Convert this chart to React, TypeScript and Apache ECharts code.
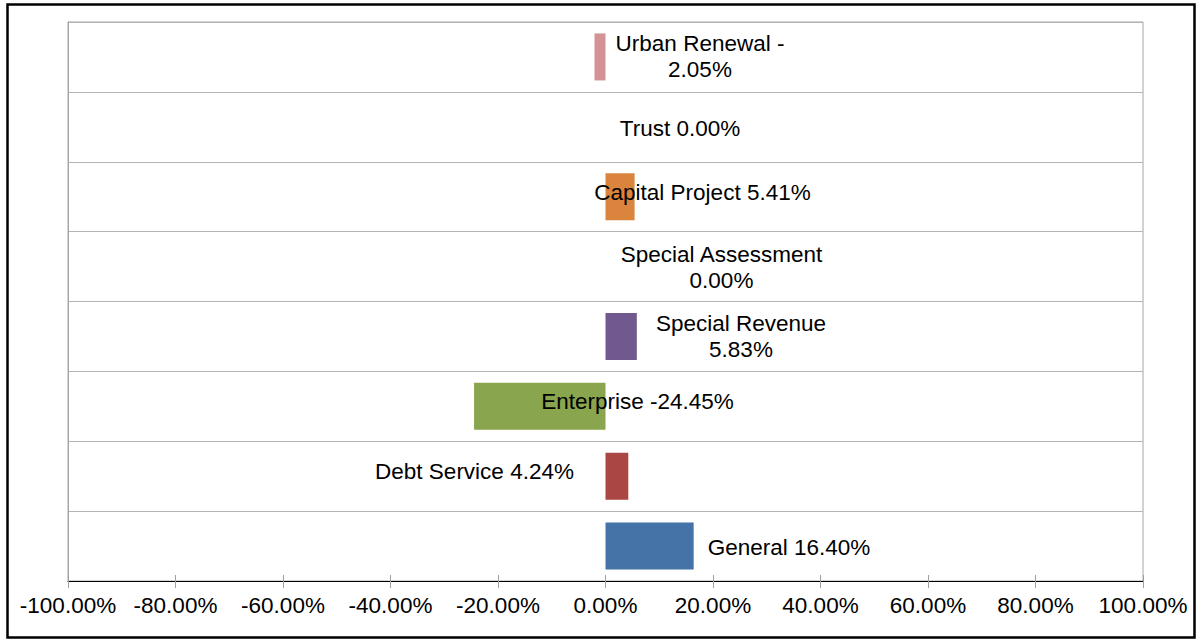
import React, { useEffect, useRef } from "react";
import * as echarts from "echarts";

// Categories listed bottom-to-top (as on the category axis)
const categories = [
  "General",
  "Debt Service",
  "Enterprise",
  "Special Revenue",
  "Special Assessment",
  "Capital Project",
  "Trust",
  "Urban Renewal",
];
const values = [16.4, 4.24, -24.45, 5.83, 0.0, 5.41, 0.0, -2.05];
const colors = ["#4572A7", "#AA4643", "#89A54E", "#71588F", "#4198AF", "#DB843D", "#93A9CF", "#D39394"];
const wrapLabel = [false, false, false, true, true, false, false, true];
const xTicks = { min: -100, max: 100, interval: 20 };

// label anchor (centre) positions in pixels — styling of the data labels
const labelX = [789, 474.5, 637.5, 741, 721.5, 702.5, 680, 700];
const labelY = [547, 471, 401, 336, 267, 192, 128, 56];

const FONT = "'Liberation Sans', Arial, Helvetica, sans-serif";

function labelText(i: number): string {
  const v = values[i];
  const name = categories[i];
  const num = Math.abs(v).toFixed(2) + "%";
  if (wrapLabel[i]) {
    return v < 0 ? name + " -\n" + num : name + "\n" + num;
  }
  return name + " " + (v < 0 ? "-" : "") + num;
}

export default function App() {
  const ref = useRef<HTMLDivElement>(null);
  useEffect(() => {
    document.body.style.margin = "0";
    const chart = echarts.init(ref.current!, undefined, { renderer: "svg" });
    const axisCommon = {
      type: "value" as const,
      min: xTicks.min,
      max: xTicks.max,
      interval: xTicks.interval,
      position: "bottom" as const,
    };
    chart.setOption({
      animation: false,
      backgroundColor: "#ffffff",
      textStyle: { fontFamily: FONT },
      grid: {
        left: 68,
        right: 53,
        top: 22,
        bottom: 59,
        show: true,
        borderColor: "#a6a6a6",
        borderWidth: 1,
      },
      xAxis: [
        {
          ...axisCommon,
          axisLine: { show: true, onZero: false, lineStyle: { color: "#000000", width: 1 } },
          axisTick: { show: true, inside: false, length: 7, lineStyle: { color: "#a0a0a0" } },
          axisLabel: {
            show: true,
            color: "#000000",
            fontSize: 22.5,
            fontFamily: FONT,
            margin: 13,
            formatter: (v: number) => v.toFixed(2) + "%",
          },
          splitLine: { show: false },
        },
        {
          ...axisCommon,
          axisLine: { show: false, onZero: false },
          axisTick: { show: true, inside: true, length: 6, lineStyle: { color: "#a0a0a0" } },
          axisLabel: { show: false },
          splitLine: { show: false },
        },
      ],
      yAxis: {
        type: "category",
        data: categories,
        axisLine: { show: true, onZero: false, lineStyle: { color: "#a6a6a6" } },
        axisTick: { show: false },
        axisLabel: { show: false },
        splitLine: { show: true, lineStyle: { color: "#b4b4b4", width: 1 } },
      },
      series: [
        {
          type: "bar",
          xAxisIndex: 0,
          barWidth: 47,
          data: values.map((v, i) => ({
            value: v,
            itemStyle: { color: colors[i] },
          })),
          label: {
            show: true,
            position: "inside",
            color: "#000000",
            fontSize: 22.5,
            fontFamily: FONT,
            lineHeight: 26,
            align: "center",
            verticalAlign: "middle",
            formatter: (p: any) => labelText(p.dataIndex),
          },
          labelLayout: (p: any) => ({
            x: labelX[p.dataIndex],
            y: labelY[p.dataIndex],
            align: "center",
            verticalAlign: "middle",
          }),
        },
      ],
      graphic: [
        {
          type: "rect",
          shape: { x: 7.5, y: 4.5, width: 1187, height: 633 },
          style: { fill: "none", stroke: "#000000", lineWidth: 2.5 },
          silent: true,
          z: 100,
        },
      ],
    });
    return () => chart.dispose();
  }, []);
  return <div ref={ref} style={{ width: 1196, height: 640 }} />;
}
